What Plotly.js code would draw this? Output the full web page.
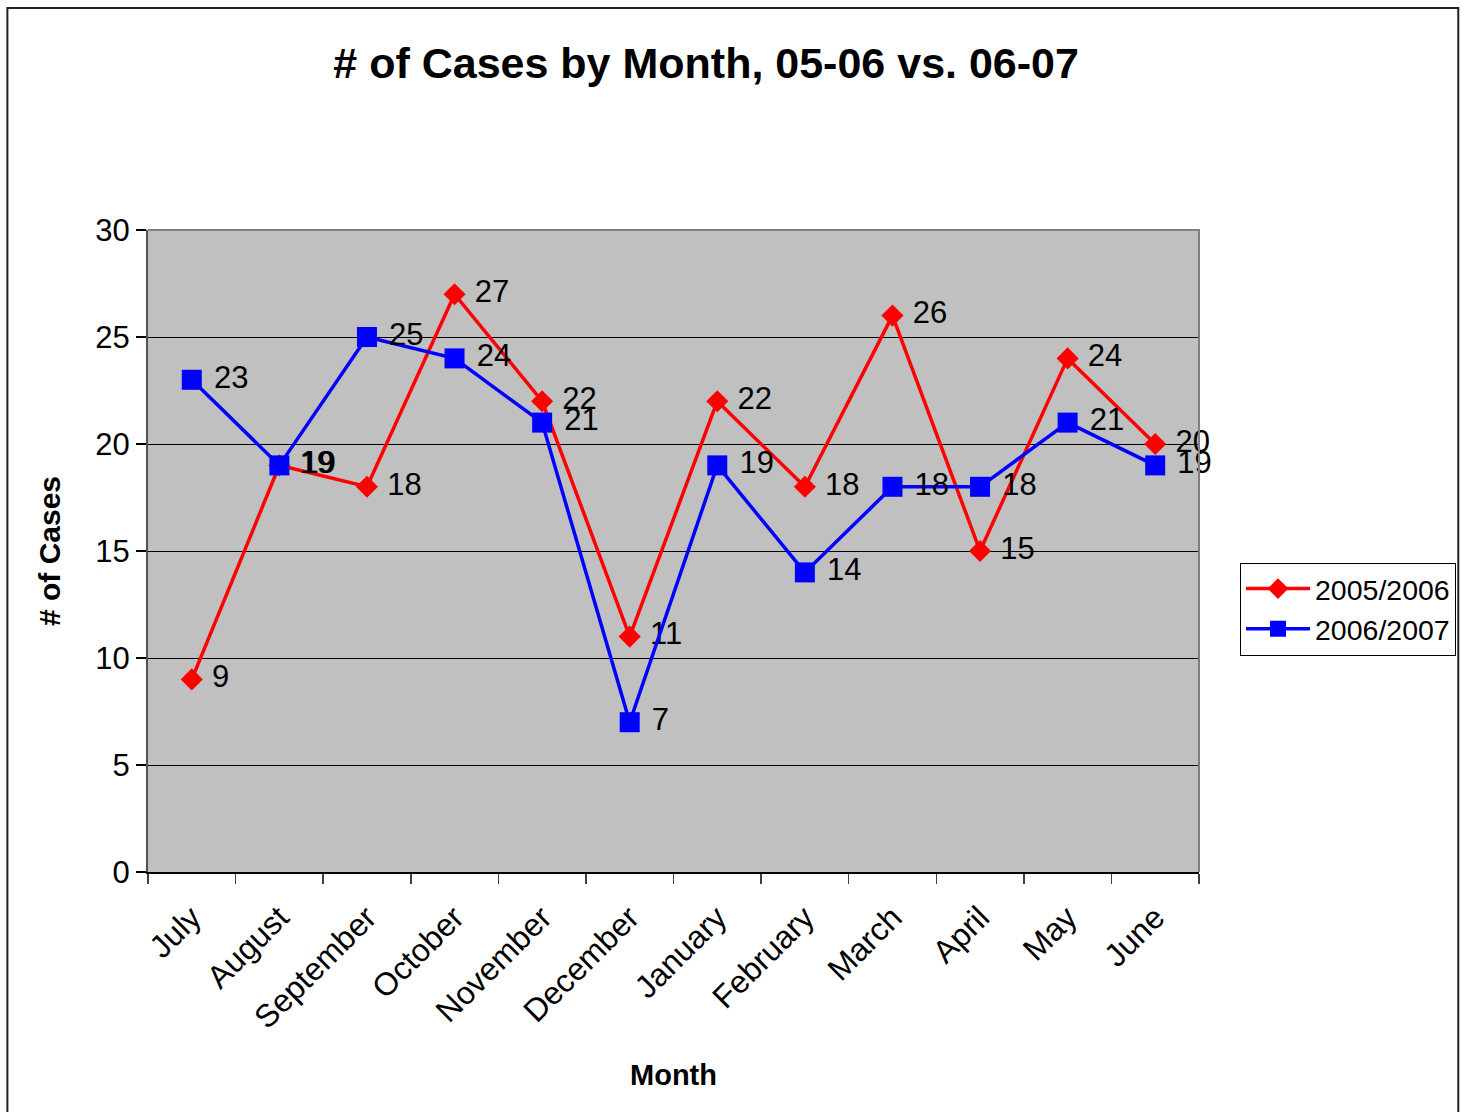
<!DOCTYPE html>
<html>
<head>
<meta charset="utf-8">
<script src="https://cdn.plot.ly/plotly-3.0.1.min.js"></script>
<style>
  html, body { margin: 0; padding: 0; background: #ffffff; }
  #chart { width: 1468px; height: 1112px; }
</style>
</head>
<body>
<div id="chart"></div>
<script>
const months = ["July", "August", "September", "October", "November", "December",
                "January", "February", "March", "April", "May", "June"];
const series0506Name = "2005/2006";
const series0506 = [9, 19, 18, 27, 22, 11, 22, 18, 26, 15, 24, 20];
const series0607Name = "2006/2007";
const series0607 = [23, 19, 25, 24, 21, 7, 19, 14, 18, 18, 21, 19];
const yTicks = [0, 5, 10, 15, 20, 25, 30];

const FONT = "Liberation Sans, Arial, sans-serif";

const traces = [
  {
    x: months, y: series0506, name: series0506Name,
    type: "scatter", mode: "lines+markers+text",
    line: { color: "#FF0000", width: 3.5 },
    marker: { symbol: "diamond", size: 17, color: "#FF0000" },
    text: series0506.map(String),
    texttemplate: " %{y}",
    textposition: "middle right",
    textfont: { family: FONT, size: 31, color: "#000000" },
    cliponaxis: false
  },
  {
    x: months, y: series0607, name: series0607Name,
    type: "scatter", mode: "lines+markers+text",
    line: { color: "#0000FF", width: 3.5 },
    marker: { symbol: "square", size: 20, color: "#0000FF" },
    text: series0607.map(String),
    texttemplate: " %{y}",
    textposition: "middle right",
    textfont: { family: FONT, size: 31, color: "#000000" },
    cliponaxis: false
  }
];

const layout = {
  width: 1468, height: 1112,
  margin: { l: 148, r: 266, t: 230, b: 240, pad: 0 },
  paper_bgcolor: "#FFFFFF",
  plot_bgcolor: "#C0C0C0",
  font: { family: FONT, color: "#000000", size: 28 },
  title: {
    text: "<b># of Cases by Month, 05-06 vs. 06-07</b>",
    font: { family: FONT, size: 43, color: "#000000" },
    x: 0.481, xanchor: "center", y: 0.943, yanchor: "middle"
  },
  xaxis: {
    type: "category",
    categoryorder: "array", categoryarray: months,
    range: [-0.5, 11.5],
    tickson: "boundaries",
    ticks: "outside", ticklen: 10, tickwidth: 1.5, tickcolor: "#404040",
    tickangle: -45,
    ticklabelstandoff: 12,
    tickfont: { family: FONT, size: 32, color: "#000000" },
    showgrid: false, zeroline: false,
    showline: true, linecolor: "#000000", linewidth: 2,
    automargin: false,
    title: { text: "<b>Month</b>", font: { family: FONT, size: 29, color: "#000000" }, standoff: 30 }
  },
  yaxis: {
    range: [0, 30],
    tickvals: yTicks,
    ticktext: yTicks.map(String),
    ticks: "outside", ticklen: 10, tickwidth: 1.5, tickcolor: "#000000",
    tickfont: { family: FONT, size: 31, color: "#000000" },
    showgrid: true, gridcolor: "#000000", gridwidth: 1,
    zeroline: false,
    showline: true, linecolor: "#505050", linewidth: 2,
    automargin: false,
    title: { text: "<b># of Cases</b>", font: { family: FONT, size: 30, color: "#000000" }, standoff: 26 }
  },
  showlegend: true,
  legend: {
    x: 1.039, xanchor: "left", y: 0.482, yanchor: "top",
    bgcolor: "#FFFFFF", bordercolor: "#000000", borderwidth: 1,
    font: { family: FONT, size: 28.5, color: "#000000" },
    itemwidth: 64, tracegroupgap: 4
  },
  shapes: [
    { type: "path", xref: "paper", yref: "paper", path: "M 0,1 L 1,1 L 1,0",
      line: { color: "#808080", width: 2 }, layer: "above" },
    { type: "rect", xref: "paper", yref: "paper",
      x0: -0.1338, x1: 1.2467, y0: -0.5, y1: 1.3458,
      line: { color: "#202020", width: 2 }, fillcolor: "rgba(0,0,0,0)", layer: "above" }
  ]
};

Plotly.newPlot("chart", traces, layout, { displayModeBar: false, staticPlot: true });
</script>
</body>
</html>
